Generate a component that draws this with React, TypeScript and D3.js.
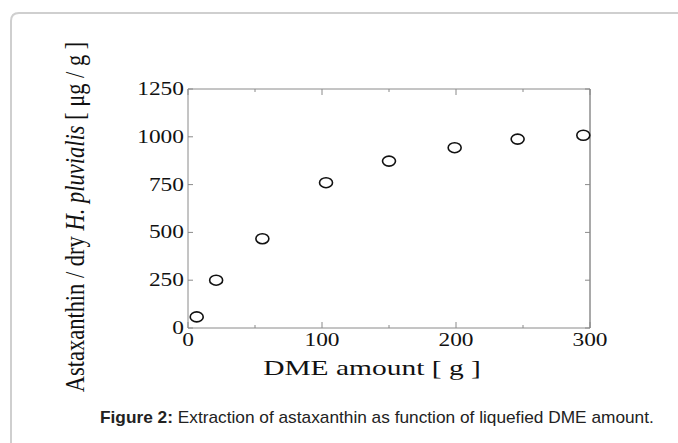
import React from "react";
import * as d3 from "d3";

// DME amount [g] vs astaxanthin [μg/g]
const dmeAmount = [6.5, 21, 55.5, 103, 150, 199, 246, 295];
const astaxanthin = [58, 250, 467, 760, 873, 943, 988, 1008];
const xTicks = [0, 100, 200, 300];
const xMinorTicks = [50, 150, 250];
const yTicks = [0, 250, 500, 750, 1000, 1250];

const W = 678;
const H = 443;
const plot = { left: 188, right: 590, top: 89, bottom: 328 };
const stretch = 1.3; // the reference is drawn wider than tall

const App: React.FC = () => {
  const x = d3.scaleLinear().domain([0, 300]).range([plot.left, plot.right]);
  const y = d3.scaleLinear().domain([0, 1250]).range([plot.bottom, plot.top]);
  const serif = "'Liberation Serif', 'DejaVu Serif', serif";
  const axisGray = "#8a8a8a";

  const points = dmeAmount.map((d, i) => ({ x: d, y: astaxanthin[i] }));

  return (
    <svg
      width={W}
      height={H}
      style={{ position: "absolute", left: 0, top: 0, background: "#fff" }}
    >
      {/* card border */}
      <path
        d={`M11,${H} L11,21 Q11,13 19,13 L${W},13`}
        fill="none"
        stroke="#cfcfcf"
        strokeWidth={2}
      />

      {/* frame */}
      <line x1={plot.left} x2={plot.right} y1={plot.top} y2={plot.top} stroke={axisGray} />
      <line x1={plot.left} x2={plot.right} y1={plot.bottom} y2={plot.bottom} stroke={axisGray} />
      <line x1={plot.left} x2={plot.left} y1={plot.top} y2={plot.bottom} stroke={axisGray} />
      <line x1={plot.right} x2={plot.right} y1={plot.top} y2={plot.bottom} stroke="#555" />

      {/* x ticks, inward top and bottom */}
      {xTicks.concat(xMinorTicks).map((t) => {
        const len = xMinorTicks.includes(t) ? 3 : 6;
        return (
          <g key={`xt${t}`} stroke={axisGray}>
            <line x1={x(t)} x2={x(t)} y1={plot.bottom} y2={plot.bottom - len} />
            <line x1={x(t)} x2={x(t)} y1={plot.top} y2={plot.top + len} />
          </g>
        );
      })}
      {xTicks.map((t) => (
        <text
          key={`xl${t}`}
          transform={`translate(${x(t)},${plot.bottom + 18}) scale(${stretch},1)`}
          textAnchor="middle"
          fontFamily={serif}
          fontSize={18}
          fill="#111"
        >
          {t}
        </text>
      ))}

      {/* y ticks, inward left and right */}
      {yTicks.map((t) => (
        <g key={`yt${t}`} stroke={axisGray}>
          <line x1={plot.left} x2={plot.left + 5} y1={y(t)} y2={y(t)} />
          <line x1={plot.right} x2={plot.right - 5} y1={y(t)} y2={y(t)} />
        </g>
      ))}
      {yTicks.map((t) => (
        <text
          key={`yl${t}`}
          transform={`translate(${plot.left - 4},${y(t) + 6}) scale(${stretch},1)`}
          textAnchor="end"
          fontFamily={serif}
          fontSize={18}
          fill="#111"
        >
          {t}
        </text>
      ))}

      {/* markers */}
      {points.map((p, i) => (
        <ellipse
          key={i}
          cx={x(p.x)}
          cy={y(p.y)}
          rx={6.5}
          ry={5}
          fill="#fff"
          stroke="#111"
          strokeWidth={1.6}
        />
      ))}

      {/* axis titles */}
      <text
        transform={`translate(372,375) scale(1.34,1)`}
        textAnchor="middle"
        fontFamily={serif}
        fontSize={22}
        fill="#111"
      >
        DME amount [ g ]
      </text>
      <text
        transform={`translate(84,217) scale(1.2,1) rotate(-90)`}
        textAnchor="middle"
        fontFamily={serif}
        fontSize={22.5}
        fill="#111"
      >
        Astaxanthin / dry <tspan fontStyle="italic">H. pluvialis</tspan>  [ μg / g ]
      </text>

      {/* caption */}
      <text
        transform={`translate(100,423) scale(1.08,1)`}
        fontFamily="'Liberation Sans', Arial, sans-serif"
        fontSize={16}
        fill="#222"
      >
        <tspan fontWeight="bold">Figure 2:</tspan> Extraction of astaxanthin as function of liquefied DME amount.
      </text>
    </svg>
  );
};

export default App;
